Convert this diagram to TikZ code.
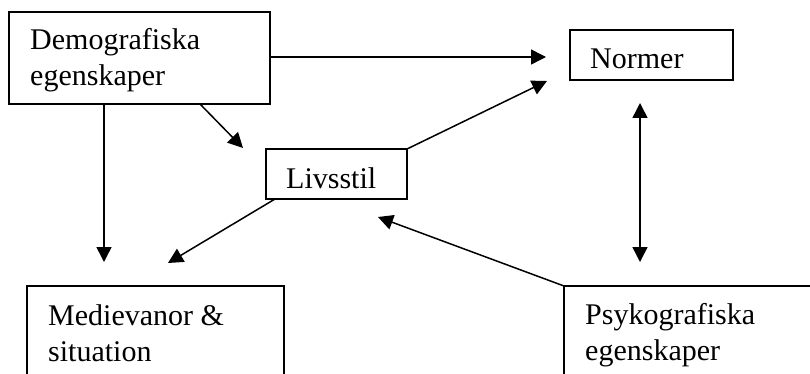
\documentclass[tikz,border=0pt]{standalone}
\usepackage{fontspec}
\setmainfont{Liberation Serif}
\usetikzlibrary{arrows.meta,calc}
\begin{document}
\begin{tikzpicture}[x=1pt,y=-1pt,
  box/.style={draw, line width=1.4pt, inner sep=0pt, outer sep=0pt, anchor=north west},
  lbl/.style={anchor=base west, inner sep=0pt, align=left, font=\fontsize{30}{36}\selectfont},
  conn/.style={line width=1.5pt, -{Triangle[length=15pt,width=15pt]}},
  both/.style={line width=1.5pt, {Triangle[length=15pt,width=15pt]}-{Triangle[length=15pt,width=15pt]}}]
\useasboundingbox (0,0) rectangle (810,374);
\clip (0,0) rectangle (810,374);
% boxes
\node[box, minimum width=261pt, minimum height=92pt] (demo) at (9,12) {};
\node[box, minimum width=163pt, minimum height=50pt] (norm) at (570,30) {};
\node[box, minimum width=141pt, minimum height=50pt] (livs) at (266,149) {};
\node[box, minimum width=257pt, minimum height=110pt] (medi) at (27,286) {};
\node[box, minimum width=260pt, minimum height=110pt] (psyk) at (564,286) {};
% texts (base anchor = baseline of last line)
\node[lbl] (tdemo) at (30,86) {Demografiska\\egenskaper};
\node[lbl] (tnorm) at (590,69) {Normer};
\node[lbl] (tlivs) at (286,188) {Livsstil};
\node[lbl] (tmedi) at (48,361) {Medievanor \&\\situation};
\node[lbl] (tpsyk) at (585,360) {Psykografiska\\egenskaper};
% connector ends
\coordinate (tipA) at (546,57);
\coordinate (tipB) at (243,148);
\coordinate (tipC) at (104,262);
\coordinate (tipD) at (547,81);
\coordinate (tipE) at (168,263);
\coordinate (tipF) at (378,217);
\coordinate (tipG) at (640,103);
\coordinate (tipH) at (640,262);
% connectors
\draw[conn] (demo.east |- tipA) -- (tipA);
\draw[conn] ($(demo.south west)+(191,0)$) -- (tipB);
\draw[conn] (demo.south -| tipC) -- (tipC);
\draw[conn] (livs.north east) -- (tipD);
\draw[conn] ($(livs.south west)+(9,0)$) -- (tipE);
\draw[conn] (psyk.north west) -- (tipF);
\draw[both] (tipG) -- (tipH);
\end{tikzpicture}
\end{document}
